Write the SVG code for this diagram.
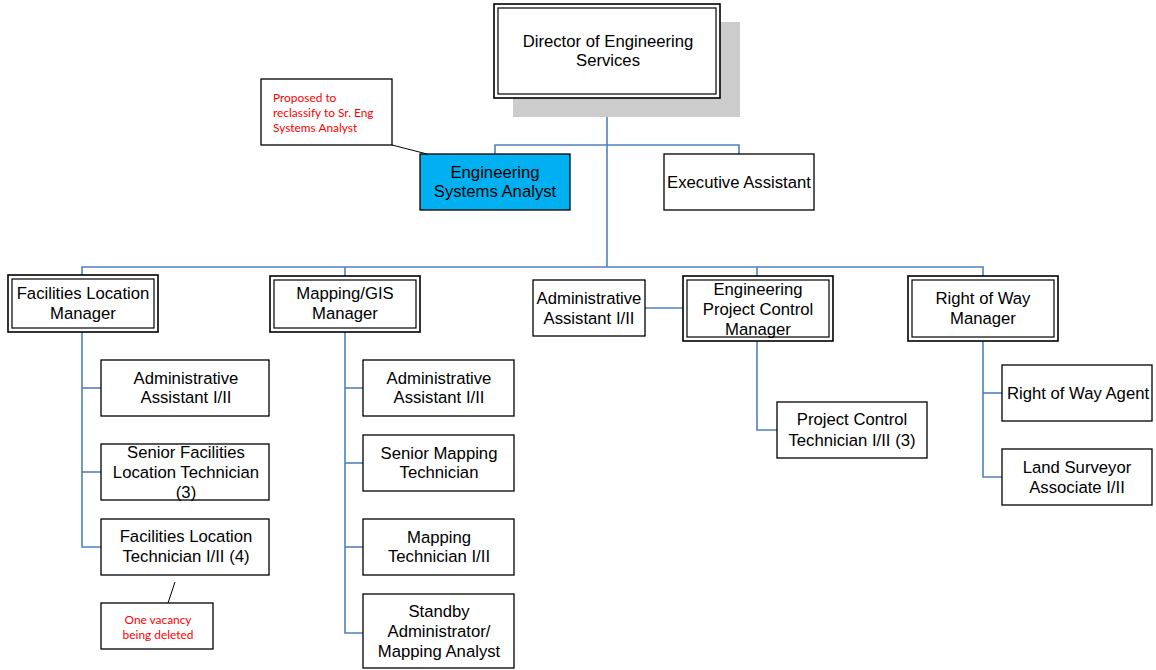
<svg xmlns="http://www.w3.org/2000/svg" width="1156" height="670" viewBox="0 0 1156 670">
  <style>
    .box { fill: #ffffff; stroke: #000000; stroke-width: 1.3; }
    .outer { fill: #ffffff; stroke: #000000; stroke-width: 1.6; }
    .inner { fill: none; stroke: #000000; stroke-width: 1.2; }
    .hl { fill: #00b0f0; stroke: #000000; stroke-width: 1.3; }
    .shadow { fill: #cccccc; }
    .t { font-family: "Liberation Sans", Arial, sans-serif; font-size: 16.7px; fill: #000000; text-anchor: middle; }
    .note { font-family: Lato, "Liberation Sans", sans-serif; font-size: 11.9px; fill: #ff0000; }
    .link { fill: none; stroke: #4f81bd; stroke-width: 1.6; }
    .lead { fill: none; stroke: #000000; stroke-width: 1; }
  </style>

  <!-- reporting lines -->
  <g id="connectors">
    <path class="link" d="M607,98 V267"/>
    <path class="link" d="M495,154 V145 H739 V154"/>
    <path class="link" d="M82,275 V267 H983 V276"/>
    <path class="link" d="M345,267 V276"/>
    <path class="link" d="M757,267 V276"/>
    <path class="link" d="M645,308 H683"/>
    <!-- Facilities Location branch -->
    <path class="link" d="M82,332 V547 H101"/>
    <path class="link" d="M82,388 H101"/>
    <path class="link" d="M82,472 H101"/>
    <!-- Mapping/GIS branch -->
    <path class="link" d="M345,332 V633 H363"/>
    <path class="link" d="M345,388 H363"/>
    <path class="link" d="M345,463 H363"/>
    <path class="link" d="M345,547 H363"/>
    <!-- Project Control branch -->
    <path class="link" d="M757,341 V430 H777"/>
    <!-- Right of Way branch -->
    <path class="link" d="M983,341 V477 H1002"/>
    <path class="link" d="M983,393 H1002"/>
    <!-- callout leaders -->
    <path class="lead" d="M392,145 L427,154"/>
    <path class="lead" d="M175,582 L168,603"/>
  </g>

  <g id="director">
    <rect class="shadow" x="513" y="22" width="227" height="95"/>
    <rect class="outer" x="494" y="4" width="226" height="94"/>
    <rect class="inner" x="498" y="8" width="218" height="86"/>
    <text class="t" x="608" y="47">Director of Engineering</text>
    <text class="t" x="608" y="66">Services</text>
  </g>

  <g id="note-reclassify">
    <rect class="box" x="261" y="79" width="131" height="66" stroke-width="1"/>
    <text class="note" x="273" y="102">Proposed to</text>
    <text class="note" x="273" y="117">reclassify to Sr. Eng</text>
    <text class="note" x="273" y="132">Systems Analyst</text>
  </g>

  <g id="eng-systems-analyst">
    <rect class="hl" x="420" y="154" width="150" height="56"/>
    <text class="t" x="495" y="178">Engineering</text>
    <text class="t" x="495" y="197">Systems Analyst</text>
  </g>

  <g id="executive-assistant">
    <rect class="box" x="664" y="154" width="150" height="56"/>
    <text class="t" x="739" y="188">Executive Assistant</text>
  </g>

  <g id="facilities-manager">
    <rect class="outer" x="8" y="275" width="150" height="57"/>
    <rect class="inner" x="12" y="279" width="142" height="49"/>
    <text class="t" x="83" y="299">Facilities Location</text>
    <text class="t" x="83" y="319">Manager</text>
  </g>

  <g id="mapping-manager">
    <rect class="outer" x="270" y="276" width="150" height="56"/>
    <rect class="inner" x="274" y="280" width="142" height="48"/>
    <text class="t" x="345" y="299">Mapping/GIS</text>
    <text class="t" x="345" y="319">Manager</text>
  </g>

  <g id="admin-assistant-pc">
    <rect class="box" x="533" y="280" width="112" height="56"/>
    <text class="t" x="589" y="304">Administrative</text>
    <text class="t" x="589" y="324">Assistant I/II</text>
  </g>

  <g id="project-control-manager">
    <rect class="outer" x="683" y="276" width="150" height="65"/>
    <rect class="inner" x="687" y="280" width="142" height="57"/>
    <text class="t" x="758" y="295">Engineering</text>
    <text class="t" x="758" y="315">Project Control</text>
    <text class="t" x="758" y="335">Manager</text>
  </g>

  <g id="row-manager">
    <rect class="outer" x="908" y="276" width="150" height="65"/>
    <rect class="inner" x="912" y="280" width="142" height="57"/>
    <text class="t" x="983" y="304">Right of Way</text>
    <text class="t" x="983" y="324">Manager</text>
  </g>

  <g id="fl-admin-assistant">
    <rect class="box" x="101" y="360" width="168" height="56"/>
    <text class="t" x="186" y="384">Administrative</text>
    <text class="t" x="186" y="403">Assistant I/II</text>
  </g>

  <g id="senior-fl-technician">
    <rect class="box" x="101" y="444" width="168" height="56"/>
    <text class="t" x="186" y="458">Senior Facilities</text>
    <text class="t" x="186" y="478">Location Technician</text>
    <text class="t" x="186" y="498">(3)</text>
  </g>

  <g id="fl-technician">
    <rect class="box" x="101" y="519" width="168" height="56"/>
    <text class="t" x="186" y="542">Facilities Location</text>
    <text class="t" x="186" y="562">Technician I/II (4)</text>
  </g>

  <g id="note-vacancy">
    <rect class="box" x="101" y="603" width="112" height="46" stroke-width="1"/>
    <text class="note" x="158" y="624" text-anchor="middle">One vacancy</text>
    <text class="note" x="158" y="639" text-anchor="middle">being deleted</text>
  </g>

  <g id="map-admin-assistant">
    <rect class="box" x="363" y="360" width="151" height="56"/>
    <text class="t" x="439" y="384">Administrative</text>
    <text class="t" x="439" y="403">Assistant I/II</text>
  </g>

  <g id="senior-mapping-technician">
    <rect class="box" x="363" y="435" width="151" height="56"/>
    <text class="t" x="439" y="459">Senior Mapping</text>
    <text class="t" x="439" y="478">Technician</text>
  </g>

  <g id="mapping-technician">
    <rect class="box" x="363" y="519" width="151" height="56"/>
    <text class="t" x="439" y="543">Mapping</text>
    <text class="t" x="439" y="562">Technician I/II</text>
  </g>

  <g id="standby-analyst">
    <rect class="box" x="363" y="594" width="151" height="74"/>
    <text class="t" x="439" y="617">Standby</text>
    <text class="t" x="439" y="637">Administrator/</text>
    <text class="t" x="439" y="657">Mapping Analyst</text>
  </g>

  <g id="project-control-technician">
    <rect class="box" x="777" y="402" width="150" height="56"/>
    <text class="t" x="852" y="425">Project Control</text>
    <text class="t" x="852" y="446">Technician I/II (3)</text>
  </g>

  <g id="row-agent">
    <rect class="box" x="1002" y="365" width="150" height="56"/>
    <text class="t" x="1078" y="399">Right of Way Agent</text>
  </g>

  <g id="land-surveyor">
    <rect class="box" x="1002" y="449" width="150" height="56"/>
    <text class="t" x="1077" y="473">Land Surveyor</text>
    <text class="t" x="1077" y="493">Associate I/II</text>
  </g>
</svg>
